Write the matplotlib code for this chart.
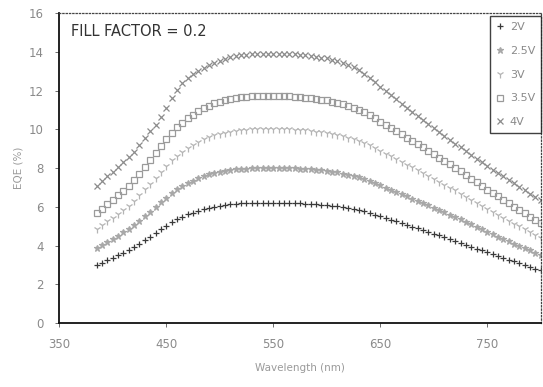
import matplotlib
matplotlib.use("Agg")
import matplotlib.pyplot as plt

# wavelength grid (nm)
wavelength = list(range(385, 801, 5))

# EQE (%) per bias voltage
eqe_2v = [3.01, 3.13, 3.26, 3.38, 3.50, 3.63, 3.76, 3.91, 4.09, 4.28,
          4.46, 4.65, 4.84, 5.02, 5.21, 5.36, 5.49, 5.61, 5.70, 5.80,
          5.88, 5.95, 6.01, 6.06, 6.10, 6.13, 6.16, 6.18, 6.19, 6.20,
          6.20, 6.20, 6.20, 6.20, 6.20, 6.20, 6.20, 6.19, 6.18, 6.17,
          6.15, 6.13, 6.11, 6.09, 6.06, 6.03, 5.98, 5.94, 5.89, 5.84,
          5.77, 5.69, 5.60, 5.51, 5.43, 5.34, 5.25, 5.16, 5.07, 4.98,
          4.90, 4.81, 4.71, 4.62, 4.53, 4.43, 4.34, 4.25, 4.15, 4.05,
          3.95, 3.85, 3.75, 3.65, 3.56, 3.47, 3.37, 3.28, 3.19, 3.09,
          3.00, 2.91, 2.82, 2.73]
eqe_25v = [3.88, 4.04, 4.20, 4.36, 4.52, 4.68, 4.86, 5.04, 5.28, 5.52,
           5.76, 6.00, 6.24, 6.48, 6.72, 6.92, 7.08, 7.24, 7.36, 7.48,
           7.58, 7.68, 7.76, 7.82, 7.87, 7.91, 7.94, 7.97, 7.98, 8.00,
           8.00, 8.00, 8.00, 8.00, 8.00, 8.00, 8.00, 7.99, 7.98, 7.96,
           7.94, 7.91, 7.89, 7.86, 7.82, 7.78, 7.72, 7.66, 7.60, 7.54,
           7.44, 7.34, 7.22, 7.11, 7.00, 6.89, 6.78, 6.66, 6.54, 6.43,
           6.32, 6.20, 6.08, 5.96, 5.84, 5.72, 5.60, 5.48, 5.35, 5.22,
           5.10, 4.97, 4.84, 4.71, 4.59, 4.47, 4.35, 4.23, 4.11, 3.99,
           3.87, 3.75, 3.64, 3.53]
eqe_3v = [4.85, 5.05, 5.25, 5.45, 5.65, 5.85, 6.07, 6.30, 6.60, 6.90,
          7.20, 7.50, 7.80, 8.10, 8.40, 8.65, 8.85, 9.05, 9.20, 9.35,
          9.48, 9.60, 9.70, 9.78, 9.84, 9.89, 9.93, 9.96, 9.98, 10.00,
          10.00, 10.00, 10.00, 10.00, 10.00, 10.00, 10.00, 9.99, 9.97, 9.95,
          9.92, 9.89, 9.86, 9.83, 9.78, 9.72, 9.65, 9.58, 9.50, 9.42,
          9.30, 9.17, 9.03, 8.89, 8.75, 8.61, 8.47, 8.33, 8.18, 8.04,
          7.90, 7.75, 7.60, 7.45, 7.30, 7.15, 7.00, 6.85, 6.69, 6.53,
          6.37, 6.21, 6.05, 5.89, 5.74, 5.59, 5.44, 5.29, 5.14, 4.99,
          4.84, 4.69, 4.55, 4.41]
eqe_35v = [5.67, 5.91, 6.14, 6.38, 6.61, 6.84, 7.10, 7.37, 7.72, 8.07,
           8.42, 8.78, 9.13, 9.48, 9.83, 10.12, 10.35, 10.59, 10.76, 10.94,
           11.09, 11.23, 11.35, 11.44, 11.51, 11.57, 11.62, 11.65, 11.68, 11.70,
           11.70, 11.70, 11.70, 11.70, 11.70, 11.70, 11.70, 11.69, 11.66, 11.64,
           11.61, 11.57, 11.54, 11.50, 11.44, 11.37, 11.29, 11.21, 11.12, 11.02,
           10.88, 10.73, 10.57, 10.40, 10.24, 10.07, 9.91, 9.75, 9.57, 9.41,
           9.24, 9.07, 8.89, 8.72, 8.54, 8.37, 8.19, 8.01, 7.83, 7.64,
           7.45, 7.27, 7.08, 6.89, 6.72, 6.54, 6.36, 6.19, 6.01, 5.84,
           5.66, 5.49, 5.32, 5.16]
eqe_4v = [7.10, 7.35, 7.60, 7.80, 8.05, 8.30, 8.55, 8.85, 9.20, 9.55,
          9.90, 10.25, 10.65, 11.10, 11.60, 12.05, 12.40, 12.65, 12.85, 13.00,
          13.15, 13.30, 13.45, 13.55, 13.65, 13.72, 13.78, 13.83, 13.86, 13.90,
          13.90, 13.90, 13.90, 13.90, 13.90, 13.90, 13.90, 13.89, 13.86, 13.83,
          13.79, 13.75, 13.71, 13.66, 13.59, 13.51, 13.41, 13.32, 13.20, 13.05,
          12.85, 12.65, 12.43, 12.21, 11.99, 11.77, 11.55, 11.33, 11.11, 10.89,
          10.68, 10.47, 10.27, 10.07, 9.87, 9.67, 9.47, 9.27, 9.07, 8.87,
          8.68, 8.49, 8.30, 8.11, 7.93, 7.75, 7.57, 7.39, 7.21, 7.03,
          6.86, 6.69, 6.52, 6.36]

series = [eqe_2v, eqe_25v, eqe_3v, eqe_35v, eqe_4v]
name_list = ("2V", "2.5V", "3V", "3.5V", "4V")
marker_list = ('+', '*', '1', 's', 'x')
color_list = ('#3a3a3a', '#a8a8a8', '#b4b4b4', '#9a9a9a', '#8c8c8c')
size_list = (5, 5, 5.5, 3.8, 4)

x_ticks = [350, 450, 550, 650, 750]
y_ticks = [0, 2, 4, 6, 8, 10, 12, 14, 16]

fig = plt.figure(figsize=(5.43, 3.87), dpi=100)
ax = fig.add_axes([0.109, 0.165, 0.887, 0.801])

for i, row in enumerate(series):
    ax.plot(wavelength, row, label=name_list[i], marker=marker_list[i],
            linestyle='None', markersize=size_list[i], markeredgewidth=0.9,
            color=color_list[i], markerfacecolor='none' if marker_list[i] == 's' else color_list[i])

ax.set_xlim(350, 800)
ax.set_ylim(0, 16)
ax.set_xticks(x_ticks)
ax.set_yticks(y_ticks)
ax.tick_params(direction='out', length=3, width=0.6, colors='#555555',
               labelsize=8.5, labelcolor='#8a8a8a', pad=8)

for side in ('left', 'bottom'):
    ax.spines[side].set_linewidth(1.3)
    ax.spines[side].set_color('#111111')
for side in ('top', 'right'):
    ax.spines[side].set_linestyle(':')
    ax.spines[side].set_linewidth(0.9)
    ax.spines[side].set_color('#444444')

ax.set_xlabel('Wavelength (nm)', fontsize=7.5, color='#9a9a9a', labelpad=8)
ax.set_ylabel('EQE (%)', fontsize=7.5, color='#9a9a9a', labelpad=4)

ax.text(0.025, 0.965, 'FILL FACTOR = 0.2', transform=ax.transAxes,
        fontsize=10.5, color='#333333', va='top', ha='left')

leg = ax.legend(loc='upper right', bbox_to_anchor=(1.0, 0.99), fontsize=8,
                frameon=True, fancybox=False, labelspacing=1.25,
                handlelength=0.8, handletextpad=0.5, borderpad=0.5,
                borderaxespad=0.0)
leg.get_frame().set_edgecolor('#111111')
leg.get_frame().set_linewidth(1.0)
for t in leg.get_texts():
    t.set_color('#8a8a8a')

fig.savefig('out.png', dpi=100)
